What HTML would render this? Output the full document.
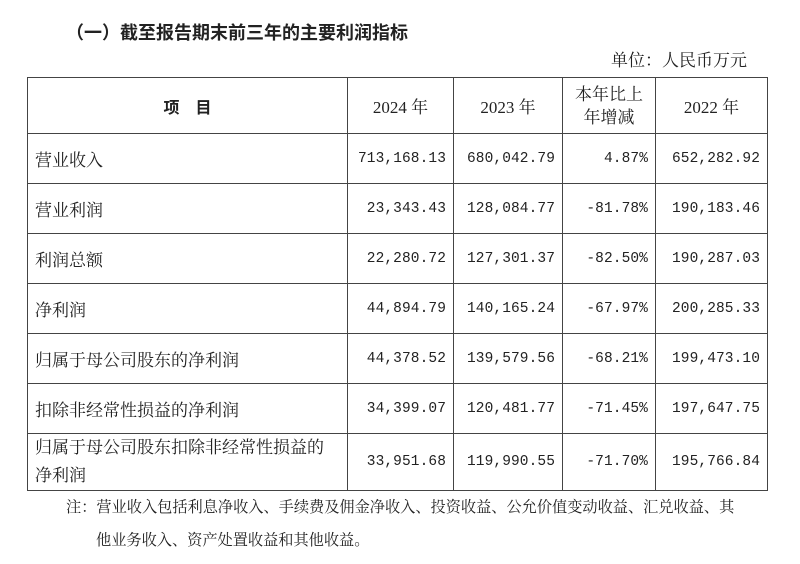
<!DOCTYPE html>
<html><head><meta charset="utf-8"><style>
body{margin:0;width:800px;height:564px;background:#fff;position:relative;overflow:hidden;font-family:"Liberation Serif","Noto Serif CJK SC",serif;color:#222}
.t{position:absolute;white-space:nowrap}
table{position:absolute;left:27px;top:77px;border-collapse:collapse;font-size:17px}
td{border:1.5px solid #444;padding:0 7px;height:49px}
td.n{text-align:right;font-family:"Liberation Mono",monospace;font-size:14.5px;letter-spacing:0.1px}
td.c{text-align:center}
</style></head><body>
<div class="t" style="left:66px;top:19px;font-size:18px;font-weight:bold;font-family:'Noto Sans CJK SC',sans-serif">（一）截至报告期末前三年的主要利润指标</div>
<div class="t" style="left:611px;top:46px;font-size:17px">单位：人民币万元</div>
<table>
<colgroup><col style="width:320px"><col style="width:106px"><col style="width:109px"><col style="width:93px"><col style="width:112px"></colgroup>
<tr><td class="c" style="font-weight:bold;height:55px;font-family:'Noto Sans CJK SC',sans-serif;font-size:16px">项　目</td><td class="c">2024 年</td><td class="c">2023 年</td><td class="c" style="line-height:23px">本年比上<br>年增减</td><td class="c">2022 年</td></tr>
<tr><td>营业收入</td><td class="n">713,168.13</td><td class="n">680,042.79</td><td class="n">4.87%</td><td class="n">652,282.92</td></tr>
<tr><td>营业利润</td><td class="n">23,343.43</td><td class="n">128,084.77</td><td class="n">-81.78%</td><td class="n">190,183.46</td></tr>
<tr><td>利润总额</td><td class="n">22,280.72</td><td class="n">127,301.37</td><td class="n">-82.50%</td><td class="n">190,287.03</td></tr>
<tr><td>净利润</td><td class="n">44,894.79</td><td class="n">140,165.24</td><td class="n">-67.97%</td><td class="n">200,285.33</td></tr>
<tr><td>归属于母公司股东的净利润</td><td class="n">44,378.52</td><td class="n">139,579.56</td><td class="n">-68.21%</td><td class="n">199,473.10</td></tr>
<tr><td>扣除非经常性损益的净利润</td><td class="n">34,399.07</td><td class="n">120,481.77</td><td class="n">-71.45%</td><td class="n">197,647.75</td></tr>
<tr><td style="line-height:28px;height:55px">归属于母公司股东扣除非经常性损益的<br>净利润</td><td class="n">33,951.68</td><td class="n">119,990.55</td><td class="n">-71.70%</td><td class="n">195,766.84</td></tr>
</table>
<div class="t" style="left:66px;top:496px;font-size:15.2px">注：营业收入包括利息净收入、手续费及佣金净收入、投资收益、公允价值变动收益、汇兑收益、其</div>
<div class="t" style="left:96px;top:529px;font-size:15.2px">他业务收入、资产处置收益和其他收益。</div>
</body></html>
